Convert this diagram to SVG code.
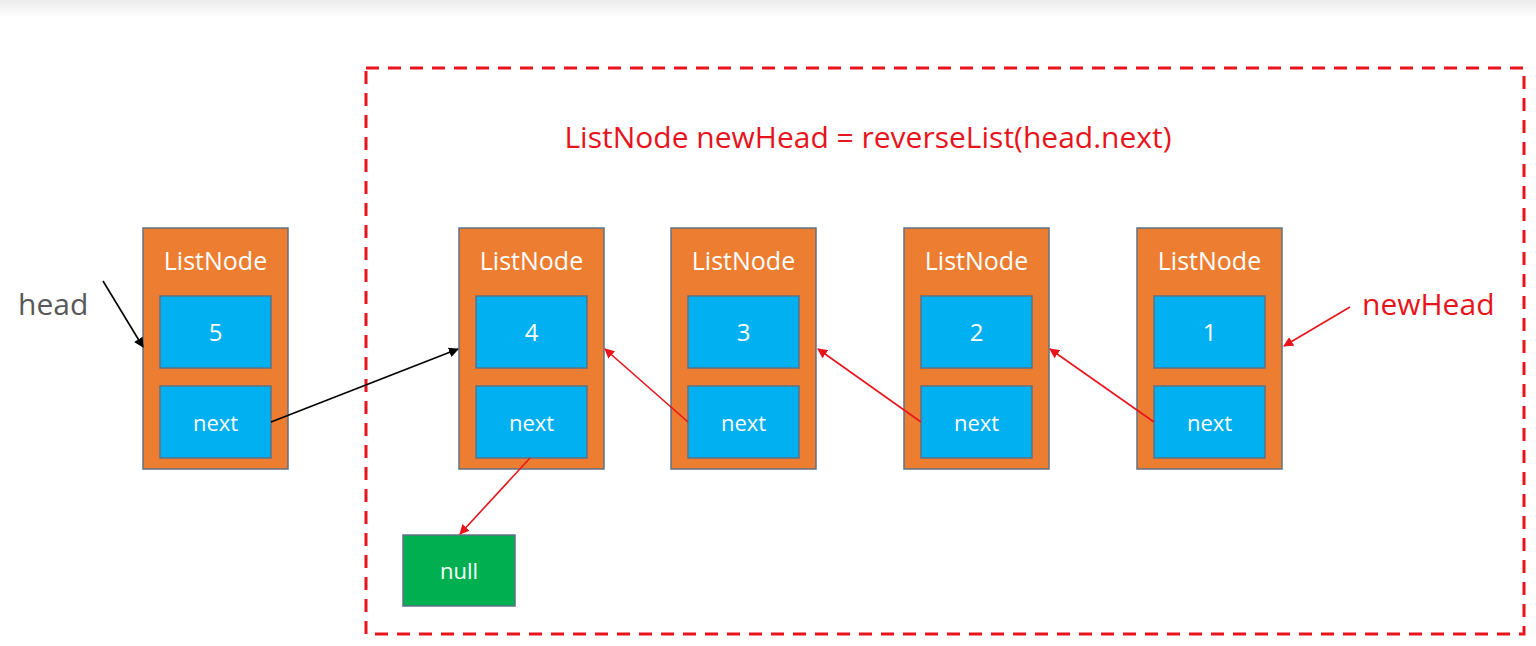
<svg xmlns="http://www.w3.org/2000/svg" width="1536" height="646" viewBox="0 0 1536 646">
<defs>
<linearGradient id="topband" x1="0" y1="0" x2="0" y2="1">
<stop offset="0" stop-color="#ececec"/>
<stop offset="1" stop-color="#ffffff"/>
</linearGradient>
<marker id="ab" viewBox="0 0 10 10" refX="9" refY="5" markerWidth="10" markerHeight="10" markerUnits="userSpaceOnUse" orient="auto">
<path d="M0,0 L10,5 L0,10 z" fill="#000"/>
</marker>
<marker id="ar" viewBox="0 0 10 10" refX="9" refY="5" markerWidth="10" markerHeight="10" markerUnits="userSpaceOnUse" orient="auto">
<path d="M0,0 L10,5 L0,10 z" fill="#e8141c"/>
</marker>
</defs>
<style>
.outer{fill:#ed7d31;stroke:#5f7185;stroke-width:1.5}
.inner{fill:#00b0f0;stroke:#5f7185;stroke-width:1.5}
.null{fill:#00b050;stroke:#5f7185;stroke-width:1.5}
.t{font-family:"Open Sans","Noto Sans",sans-serif;fill:#fff;text-anchor:middle}
.lbl{font-size:25px}
.val{font-size:24px}
.nx{font-size:22px}
.red{fill:#e8141c;font-family:"Open Sans","Noto Sans",sans-serif}
.cb{stroke:#000;stroke-width:1.6;fill:none;marker-end:url(#ab)}
.cr{stroke:#e8141c;stroke-width:1.6;fill:none;marker-end:url(#ar)}
</style>
<rect x="0" y="0" width="1536" height="646" fill="#fff"/>
<rect x="0" y="0" width="1536" height="18" fill="url(#topband)"/>
<g id="frame">
<rect x="366" y="68" width="1158" height="566" fill="none" stroke="#e8141c" stroke-width="3" stroke-dasharray="13,9"/>
<text class="red" x="868" y="148" font-size="30" text-anchor="middle">ListNode newHead = reverseList(head.next)</text>
</g>
<g id="label-head">
<text x="18" y="315" font-family="'Open Sans','Noto Sans',sans-serif" font-size="30" fill="#595959">head</text>
</g>
<g id="label-newHead">
<text class="red" x="1362" y="315" font-size="30">newHead</text>
</g>
<g id="node5">
<rect class="outer" x="143" y="228" width="145" height="241"/>
<text class="t lbl" x="215.5" y="270">ListNode</text>
<rect class="inner" x="160" y="296" width="111" height="72"/>
<text class="t val" x="215.5" y="341">5</text>
<rect class="inner" x="160" y="386" width="111" height="72"/>
<text class="t nx" x="215.5" y="431">next</text>
</g>
<g id="node4">
<rect class="outer" x="459" y="228" width="145" height="241"/>
<text class="t lbl" x="531.5" y="270">ListNode</text>
<rect class="inner" x="476" y="296" width="111" height="72"/>
<text class="t val" x="531.5" y="341">4</text>
<rect class="inner" x="476" y="386" width="111" height="72"/>
<text class="t nx" x="531.5" y="431">next</text>
</g>
<g id="node3">
<rect class="outer" x="671" y="228" width="145" height="241"/>
<text class="t lbl" x="743.5" y="270">ListNode</text>
<rect class="inner" x="688" y="296" width="111" height="72"/>
<text class="t val" x="743.5" y="341">3</text>
<rect class="inner" x="688" y="386" width="111" height="72"/>
<text class="t nx" x="743.5" y="431">next</text>
</g>
<g id="node2">
<rect class="outer" x="904" y="228" width="145" height="241"/>
<text class="t lbl" x="976.5" y="270">ListNode</text>
<rect class="inner" x="921" y="296" width="111" height="72"/>
<text class="t val" x="976.5" y="341">2</text>
<rect class="inner" x="921" y="386" width="111" height="72"/>
<text class="t nx" x="976.5" y="431">next</text>
</g>
<g id="node1">
<rect class="outer" x="1137" y="228" width="145" height="241"/>
<text class="t lbl" x="1209.5" y="270">ListNode</text>
<rect class="inner" x="1154" y="296" width="111" height="72"/>
<text class="t val" x="1209.5" y="341">1</text>
<rect class="inner" x="1154" y="386" width="111" height="72"/>
<text class="t nx" x="1209.5" y="431">next</text>
</g>
<g id="null">
<rect class="null" x="403" y="535" width="112" height="71"/>
<text class="t nx" x="459" y="579">null</text>
</g>
<g id="connectors">
<line class="cb" x1="103" y1="281" x2="143" y2="347"/>
<line class="cb" x1="271" y1="422" x2="458" y2="349"/>
<line class="cr" x1="530" y1="458" x2="460" y2="534"/>
<line class="cr" x1="688" y1="422" x2="605" y2="349"/>
<line class="cr" x1="921" y1="422" x2="818" y2="349"/>
<line class="cr" x1="1154" y1="422" x2="1050" y2="349"/>
<line class="cr" x1="1350" y1="307" x2="1284" y2="346"/>
</g>
</svg>
